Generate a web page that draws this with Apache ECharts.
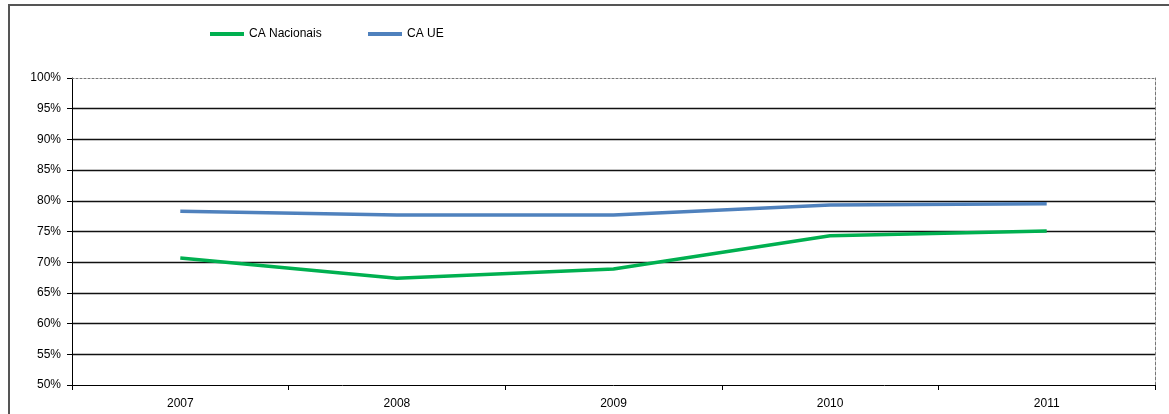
<!DOCTYPE html>
<html>
<head>
<meta charset="utf-8">
<script src="https://cdn.jsdelivr.net/npm/echarts@6/dist/echarts.min.js"></script>
<style>
  html, body { margin: 0; padding: 0; background: #fff; }
  #frame { position: absolute; left: 8px; top: 4px; width: 1200px; height: 450px; border: 2px solid #555; box-sizing: border-box; }
  #chart { position: absolute; left: 0; top: 0; width: 1169px; height: 414px; }
</style>
</head>
<body>
<div id="frame"></div>
<div id="chart"></div>
<script>
// anos e valores (%)
var anos = ['2007', '2008', '2009', '2010', '2011'];
var caNacionais = [70.7, 67.4, 68.9, 74.3, 75.1];
var caUE = [78.3, 77.7, 77.7, 79.3, 79.5];

var fonte = 'Liberation Sans';

var myChart = echarts.init(document.getElementById('chart'));

myChart.setOption({
    animation: false,
    textStyle: { fontFamily: fonte },
    legend: [{
        left: 205, top: 23,
        icon: 'rect', itemWidth: 34, itemHeight: 4, itemGap: 0,
        textStyle: { fontSize: 12, color: '#000', fontFamily: fonte },
        data: ['CA Nacionais']
    }, {
        left: 363, top: 23,
        icon: 'rect', itemWidth: 34, itemHeight: 4,
        textStyle: { fontSize: 12, color: '#000', fontFamily: fonte },
        data: ['CA UE']
    }],
    grid: { left: 72, right: 14, top: 78, bottom: 29, containLabel: false },
    xAxis: [{
        type: 'category',
        data: anos,
        boundaryGap: true,
        axisLine: { lineStyle: { color: '#000', width: 1 } },
        axisTick: { show: true, length: 5, inside: false, lineStyle: { color: '#000' } },
        axisLabel: { color: '#000', fontSize: 12, margin: 13 },
        splitLine: { show: false }
    }, {
        type: 'category',
        data: anos,
        position: 'top',
        axisLine: { lineStyle: { color: '#777', type: [2, 2], width: 1 } },
        axisTick: { show: false },
        axisLabel: { show: false }
    }],
    yAxis: [{
        type: 'value',
        min: 50, max: 100, interval: 5,
        axisLine: { show: true, lineStyle: { color: '#000', width: 1 } },
        axisTick: { show: true, length: 5, lineStyle: { color: '#000' } },
        axisLabel: { color: '#000', fontSize: 12, margin: 11, formatter: '{value}%' },
        splitLine: { show: true, showMaxLine: false, showMinLine: false, lineStyle: { color: '#111', width: 1.3 } }
    }, {
        type: 'value',
        position: 'right',
        min: 50, max: 100, interval: 5,
        axisLine: { show: true, lineStyle: { color: '#777', type: [3, 2], width: 1 } },
        axisTick: { show: false },
        axisLabel: { show: false },
        splitLine: { show: false }
    }],
    series: [{
        name: 'CA Nacionais',
        type: 'line',
        data: caNacionais,
        symbol: 'none',
        lineStyle: { color: '#00B050', width: 3.5 },
        itemStyle: { color: '#00B050' }
    }, {
        name: 'CA UE',
        type: 'line',
        data: caUE,
        symbol: 'none',
        lineStyle: { color: '#4F81BD', width: 3.5 },
        itemStyle: { color: '#4F81BD' }
    }]
});
</script>
</body>
</html>
